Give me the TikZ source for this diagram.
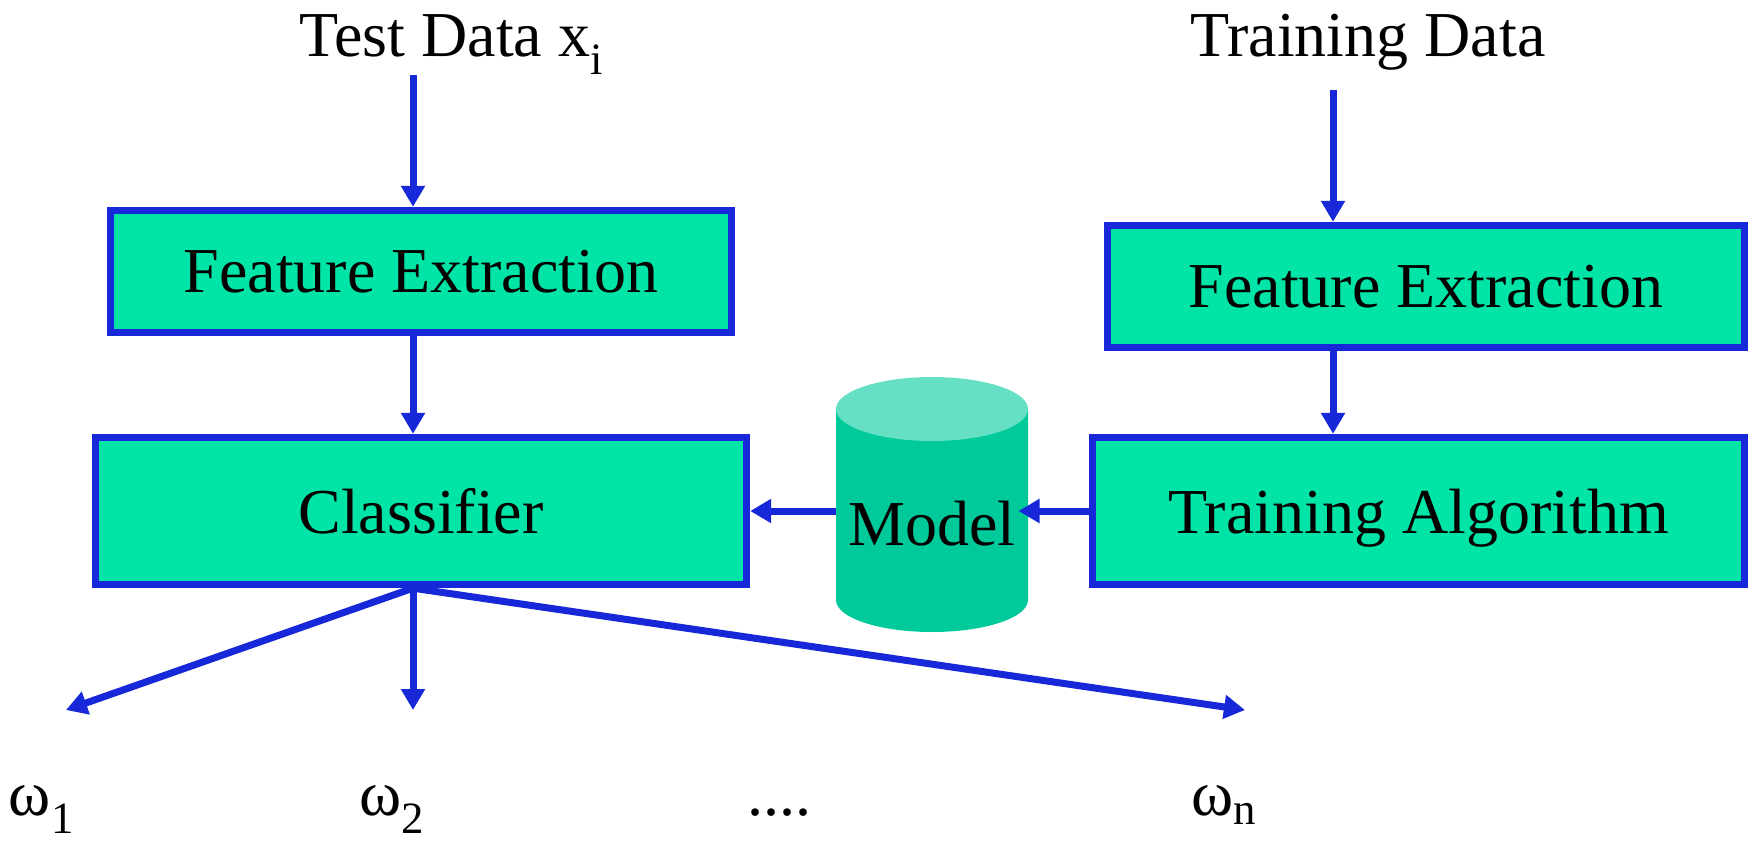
\documentclass[tikz,border=0pt]{standalone}
\usepackage{fontspec}
\setmainfont{Liberation Serif}
\usetikzlibrary{arrows.meta}

\definecolor{boxfill}{RGB}{0,228,168}
\definecolor{boxline}{RGB}{22,40,216}
\definecolor{cyltop}{RGB}{102,224,196}
\definecolor{cylbody}{RGB}{0,201,154}

\tikzset{every picture/.style={line width=0.75pt}}
\tikzset{
  blk/.style={draw=boxline, fill=boxfill, line width=5.5pt, inner sep=0pt, text depth=0pt, font=\fontsize{48}{56}\selectfont},
  lbl/.style={inner sep=0.75pt, font=\fontsize{48}{56}\selectfont},
  flow/.style={draw=boxline, line width=5.25pt, -{Triangle[length=15.75pt,width=17.25pt]}}
}

\begin{document}
\begin{tikzpicture}[x=0.75pt,y=0.75pt,yscale=-1,xscale=1]
\useasboundingbox (0,0) rectangle (1750,843);

%Shape: Rectangle
\node [blk, minimum width=465.75pt, minimum height=91.5pt] (fe1) at (421,271.5) {Feature Extraction};
%Shape: Rectangle
\node [blk, minimum width=488.25pt, minimum height=110.25pt] (cls) at (421,511) {Classifier};
%Shape: Rectangle
\node [blk, minimum width=477.75pt, minimum height=91.5pt] (fe2) at (1426,286.5) {Feature Extraction};
%Shape: Rectangle
\node [blk, minimum width=489pt, minimum height=110.25pt] (alg) at (1418.5,511) {Training Algorithm};

%Shape: Can
\fill [cylbody] (836,409) -- (836,600) arc [start angle=180, end angle=0, x radius=96, y radius=32] -- (1028,409) -- cycle ;
\fill [cyltop] (932,409) ellipse [x radius=96, y radius=32] ;
% Text Node
\node [lbl, inner sep=0pt, text depth=0pt, minimum width=144pt] (model) at (932,523) {Model};

% Text Node
\node [lbl, anchor=base] (test) at (451.5,56) {Test Data x\textsubscript{i}};
% Text Node
\node [lbl, anchor=base] (train) at (1368,56) {Training Data};

\coordinate (in1) at (413,75);
\coordinate (in2) at (1333,90);
\coordinate (o1) at (66,710);
\coordinate (o2) at (413,710);
\coordinate (on) at (1245,710);

%Straight Lines
\draw [flow] (in1) -- (in1 |- fe1.north) ;
\draw [flow] (in1 |- fe1.south) -- (in1 |- cls.north) ;
\draw [flow] (in2) -- (in2 |- fe2.north) ;
\draw [flow] (in2 |- fe2.south) -- (in2 |- alg.north) ;
\draw [flow, shorten >=-7.5pt] (alg.west) -- (alg.west -| model.east) ;
\draw [flow] (model.west |- cls.east) -- (cls.east) ;
\draw [flow] (in1 |- cls.south) -- (o1) ;
\draw [flow] (in1 |- cls.south) -- (o2) ;
\draw [flow] (in1 |- cls.south) -- (on) ;

% Text Node
\node [lbl, anchor=base] (w1) at (41.5,815) {ω\textsubscript{1}};
% Text Node
\node [lbl, anchor=base] (w2) at (392,815) {ω\textsubscript{2}};
% Text Node
\node [lbl, anchor=base] (dots) at (779,815) {....};
% Text Node
\node [lbl, anchor=base] (wn) at (1224,815) {ω\textsubscript{n}};

\end{tikzpicture}
\end{document}
